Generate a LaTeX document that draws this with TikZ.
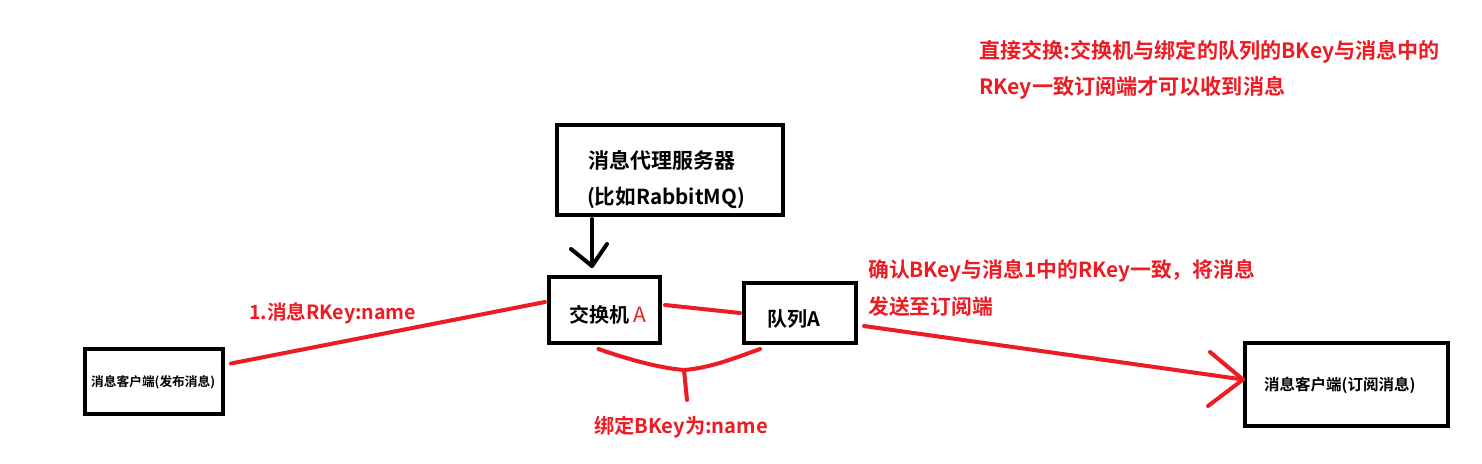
\documentclass[tikz,border=0pt]{standalone}
\usepackage{fontspec}
\setmainfont{Noto Sans CJK SC}
\newfontfamily\cjkb{Noto Sans CJK SC Bold}
\definecolor{myred}{RGB}{237,28,36}
\tikzset{
  box/.style={draw=black,line width=4pt,inner sep=0pt,fill=white},
  lbl/.style={inner sep=0pt,anchor=west,font=\cjkb},
  rlbl/.style={lbl,text=myred},
  redline/.style={draw=myred,line width=4pt,line cap=round,line join=round},
  blkline/.style={draw=black,line width=4pt,line cap=round,line join=round}
}
\begin{document}
\begin{tikzpicture}[x=1pt,y=-1pt]
\useasboundingbox[fill=white] (0,0) rectangle (1482,463);
% boxes
\node[box,minimum width=226pt,minimum height=90pt] (srv) at (670,170) {};
\node[box,minimum width=111pt,minimum height=66pt] (ex) at (604.5,310) {};
\node[box,minimum width=112pt,minimum height=60pt] (q) at (800,313) {};
\node[box,minimum width=138pt,minimum height=65pt] (pub) at (154,381.5) {};
\node[box,minimum width=203pt,minimum height=83pt] (sub) at (1346.5,384.5) {};
% texts
\node[lbl,font=\cjkb\fontsize{21}{24}\selectfont] (t1) at (588,160) {消息代理服务器};
\node[lbl,font=\cjkb\fontsize{20.6}{24}\selectfont] (t2) at (587,198) {(比如RabbitMQ)};
\node[lbl,font=\cjkb\fontsize{20}{24}\selectfont] (t3) at (569,315) {交换机\hspace{4pt}\textcolor{myred}{\fontspec{Noto Sans CJK SC}\fontsize{21}{24}\selectfont A}};
\node[lbl,font=\cjkb\fontsize{20}{24}\selectfont] (t4) at (767,319) {队列A};
\node[lbl,font=\cjkb\fontsize{12.7}{14}\selectfont] (t5) at (91,382) {消息客户端(发布消息)};
\node[lbl,font=\cjkb\fontsize{15.5}{16}\selectfont] (t6) at (1264,385) {消息客户端(订阅消息)};
\node[rlbl,font=\cjkb\fontsize{19.6}{22}\selectfont] (r1) at (249,313) {1.消息RKey:name};
\node[rlbl,font=\cjkb\fontsize{20.8}{22}\selectfont] (r2) at (868,271) {确认BKey与消息1中的RKey一致，将消息};
\node[rlbl,font=\cjkb\fontsize{20.8}{22}\selectfont] (r3) at (868,307) {发送至订阅端};
\node[rlbl,font=\cjkb\fontsize{21.1}{22}\selectfont] (r4) at (979,52) {直接交换:交换机与绑定的队列的BKey与消息中的};
\node[rlbl,font=\cjkb\fontsize{21.1}{22}\selectfont] (r5) at (979,88) {RKey一致订阅端才可以收到消息};
\node[rlbl,font=\cjkb\fontsize{20.2}{22}\selectfont] (r6) at (594,427) {绑定BKey为:name};
% connector coordinates
\coordinate (pubR) at ([shift={(6,-18)}]pub.east);
\coordinate (exL) at ([shift={(-2,-8)}]ex.west);
\coordinate (exR) at ([shift={(3,-5)}]ex.east);
\coordinate (qL) at ([shift={(-2,0)}]q.west);
\coordinate (qR) at ([shift={(6,13)}]q.east);
\coordinate (subL) at ([shift={(0,-5)}]sub.west);
\coordinate (ha) at (1210,352);
\coordinate (hb) at (1208,406);
\coordinate (exB) at ([shift={(-6,4)}]ex.south);
\coordinate (qB) at ([shift={(-40,4)}]q.south);
\coordinate (brM) at (684,370);
\coordinate (brT) at (687,400);
\coordinate (srvB) at ([shift={(-78,2)}]srv.south);
\coordinate (arT) at (592,266);
\coordinate (aa) at (571,249);
\coordinate (ab) at (607,244);
% red connectors
\draw[redline] (pubR) -- (exL);
\draw[redline] (exR) -- (qL);
\draw[redline] (qR) -- (subL);
\draw[redline] (ha) -- (subL) -- (hb);
\draw[redline] (exB) .. controls (630,360) and (660,368) .. (brM) .. controls (710,368) and (735,358) .. (qB);
\draw[redline] (brM) -- (brT);
% black arrow
\draw[blkline] (srvB) -- (arT);
\draw[blkline] (aa) -- (arT) -- (ab);
\end{tikzpicture}
\end{document}
